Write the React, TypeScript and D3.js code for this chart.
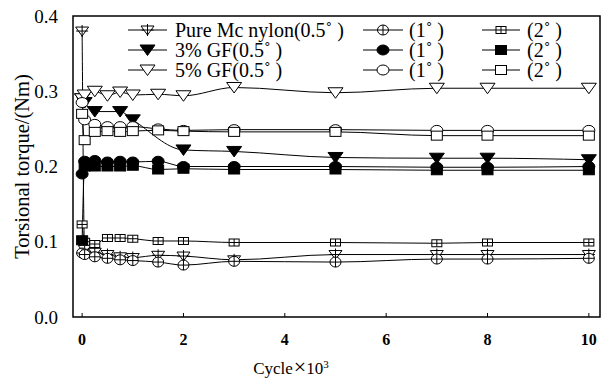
import * as d3 from "d3";

// cycle (x10^3) at which torque was sampled
const cycles = [0, 0.05, 0.25, 0.5, 0.75, 1, 1.5, 2, 3, 5, 7, 8, 10];

// torsional torque (Nm); null = no point at that cycle
const pure05 = [0.38, 0.09, 0.086, 0.083, 0.08, 0.079, 0.082, 0.081, 0.076, 0.083, 0.083, 0.083, 0.083];
const pure1 = [0.085, 0.083, 0.08, 0.078, 0.076, 0.075, 0.073, 0.069, 0.074, 0.073, 0.077, 0.077, 0.078];
const pure2 = [0.123, 0.1, 0.097, 0.105, 0.105, 0.104, 0.101, 0.101, 0.099, 0.099, 0.098, 0.099, 0.099];
const gf3_05 = [0.29, 0.285, 0.273, null, 0.273, 0.262, null, 0.222, 0.22, 0.212, 0.211, 0.211, 0.209];
const gf3_1 = [0.19, 0.207, 0.208, 0.206, 0.207, 0.206, 0.207, 0.2, 0.2, 0.2, 0.199, 0.199, 0.2];
const gf3_2 = [0.102, 0.2, 0.2, 0.2, 0.2, 0.201, 0.196, 0.197, 0.196, 0.196, 0.195, 0.195, 0.195];
const gf5_05 = [0.29, 0.295, 0.3, 0.294, 0.299, 0.295, 0.296, 0.294, 0.305, 0.298, 0.304, 0.304, 0.304];
const gf5_1 = [0.285, 0.262, 0.256, 0.253, 0.253, 0.253, 0.25, 0.248, 0.249, 0.249, 0.248, 0.248, 0.248];
const gf5_2 = [0.27, 0.235, 0.246, 0.247, 0.246, 0.247, 0.248, 0.247, 0.246, 0.246, 0.241, 0.241, 0.241];

const seriesLabels = [
  "Pure Mc nylon(0.5˚ )", "(1˚ )", "(2˚ )",
  "3% GF(0.5˚ )", "(1˚ )", "(2˚ )",
  "5% GF(0.5˚ )", "(1˚ )", "(2˚ )",
];
const seriesValues = [pure05, pure1, pure2, gf3_05, gf3_1, gf3_2, gf5_05, gf5_1, gf5_2];
const markerTypes = [
  "triPlus", "circlePlus", "squarePlus",
  "triFill", "circleFill", "squareFill",
  "triOpen", "circleOpen", "squareOpen",
];

const xTicks = [0, 2, 4, 6, 8, 10];
const yTicks = [0, 0.1, 0.2, 0.3, 0.4];

const width = 602;
const height = 386;
const plot = { left: 73, top: 16, right: 600, bottom: 317 };

function Marker({ type, cx, cy }: { type: string; cx: number; cy: number }) {
  const s = { stroke: "#000", strokeWidth: 1 };
  const tri = `${cx - 7.5},${cy - 5} ${cx + 7.5},${cy - 5} ${cx},${cy + 5.5}`;
  switch (type) {
    case "triPlus":
      return (
        <g {...s}>
          <polygon points={`${cx - 6.5},${cy - 4} ${cx + 6.5},${cy - 4} ${cx},${cy + 5}`} fill="#fff" />
          <line x1={cx} x2={cx} y1={cy - 6} y2={cy + 6} />
          <line x1={cx - 6} x2={cx + 6} y1={cy} y2={cy} />
        </g>
      );
    case "circlePlus":
      return (
        <g {...s}>
          <ellipse cx={cx} cy={cy} rx={5.5} ry={5} fill="#fff" />
          <line x1={cx} x2={cx} y1={cy - 5} y2={cy + 5} />
          <line x1={cx - 5.5} x2={cx + 5.5} y1={cy} y2={cy} />
        </g>
      );
    case "squarePlus":
      return (
        <g {...s}>
          <rect x={cx - 5} y={cy - 3.5} width={10} height={7} fill="#fff" />
          <line x1={cx} x2={cx} y1={cy - 3.5} y2={cy + 3.5} />
          <line x1={cx - 5} x2={cx + 5} y1={cy} y2={cy} />
        </g>
      );
    case "triFill":
      return <polygon points={tri} fill="#000" {...s} />;
    case "triOpen":
      return <polygon points={tri} fill="#fff" {...s} />;
    case "circleFill":
      return <ellipse cx={cx} cy={cy} rx={6} ry={5} fill="#000" {...s} />;
    case "circleOpen":
      return <ellipse cx={cx} cy={cy} rx={6} ry={5} fill="#fff" {...s} />;
    case "squareFill":
      return <rect x={cx - 5.5} y={cy - 4.5} width={11} height={9} fill="#000" {...s} />;
    default:
      return <rect x={cx - 5.5} y={cy - 4.5} width={11} height={9} fill="#fff" {...s} />;
  }
}

export default function App() {
  const x = d3.scaleLinear().domain([-0.18, 10.22]).range([plot.left, plot.right]);
  const y = d3.scaleLinear().domain([0, 0.4]).range([plot.bottom, plot.top]);

  const line = d3
    .line<[number, number]>()
    .x((d) => x(d[0]))
    .y((d) => y(d[1]))
    .curve(d3.curveMonotoneX);

  const series = seriesValues.map((vals, i) => ({
    type: markerTypes[i],
    pts: cycles
      .map((c, j) => [c, vals[j]] as [number, number | null])
      .filter((p) => p[1] != null) as [number, number][],
  }));

  const legendCols = [
    { x1: 128, x2: 167, tx: 175 },
    { x1: 363, x2: 403, tx: 409 },
    { x1: 482, x2: 520, tx: 527 },
  ];
  const legendRows = [30, 50, 70];

  return (
    <svg
      width={width}
      height={height}
      style={{
        position: "absolute",
        left: 0,
        top: 0,
        background: "#fff",
        fontFamily: "Liberation Serif",
      }}
    >
      {/* lines */}
      <g fill="none" stroke="#000" strokeWidth={1}>
        {series.map((s, i) => (
          <path key={i} d={line(s.pts) ?? ""} />
        ))}
      </g>
      {/* markers */}
      {series.map((s, i) => (
        <g key={i}>
          {s.pts.map((p, j) => (
            <Marker key={j} type={s.type} cx={x(p[0])} cy={y(p[1])} />
          ))}
        </g>
      ))}

      {/* frame */}
      <rect
        x={plot.left}
        y={plot.top}
        width={plot.right - plot.left}
        height={plot.bottom - plot.top}
        fill="none"
        stroke="#000"
        strokeWidth={1.5}
      />

      {/* x ticks */}
      {xTicks.map((t) => (
        <g key={t}>
          <line x1={x(t)} x2={x(t)} y1={plot.bottom} y2={plot.bottom - 4} stroke="#000" />
          <text x={x(t)} y={345} textAnchor="middle" fontSize={16} fontWeight="bold">
            {t}
          </text>
        </g>
      ))}
      {/* y ticks */}
      {yTicks.map((t) => (
        <text key={t} x={58} y={y(t)} dy="0.35em" textAnchor="end" fontSize={19}>
          {t.toFixed(1)}
        </text>
      ))}

      <text
        transform={`translate(22,${(plot.top + plot.bottom) / 2}) rotate(-90)`}
        textAnchor="middle"
        dy="0.35em"
        fontSize={20.5}
      >
        Torsional torque/(Nm)
      </text>
      <text x={291} y={374} textAnchor="middle" fontSize={17}>
        Cycle<tspan fontSize={22} dx={1}>×</tspan>10<tspan fontSize={11} dy={-6}>3</tspan>
      </text>

      {/* legend */}
      {seriesLabels.map((lab, i) => {
        const c = legendCols[i % 3];
        const ry = legendRows[Math.floor(i / 3)];
        return (
          <g key={i}>
            <line x1={c.x1} x2={c.x2} y1={ry} y2={ry} stroke="#000" />
            <Marker type={markerTypes[i]} cx={(c.x1 + c.x2) / 2} cy={ry} />
            <text x={c.tx} y={ry} dy="0.35em" fontSize={20}>
              {lab}
            </text>
          </g>
        );
      })}
    </svg>
  );
}
